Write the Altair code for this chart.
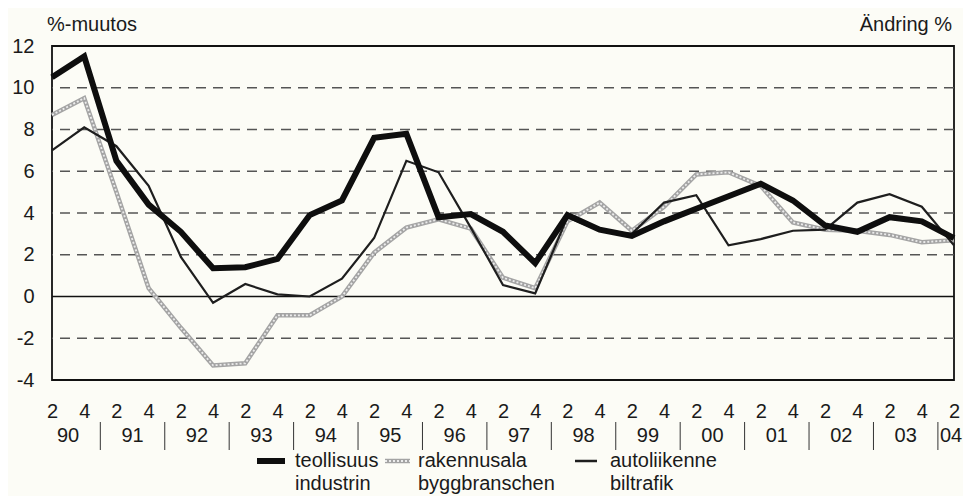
import altair as alt
import pandas as pd

# ---- data ----
years = ["90", "91", "92", "93", "94", "95", "96", "97", "98", "99", "00", "01", "02", "03", "04"]
half_labels = ["2", "4"]
teollisuus = [10.5, 11.5, 6.5, 4.4, 3.1, 1.35, 1.4, 1.8, 3.9, 4.6, 7.6, 7.8, 3.8, 3.95, 3.1,
              1.6, 3.9, 3.2, 2.9, 3.6, 4.2, 4.8, 5.4, 4.6, 3.4, 3.1, 3.8, 3.6, 2.8]
rakennusala = [8.7, 9.5, 5.0, 0.4, -1.5, -3.3, -3.2, -0.9, -0.9, 0.0, 2.1, 3.3, 3.7, 3.25, 0.9,
               0.4, 3.6, 4.5, 3.15, 4.3, 5.85, 5.95, 5.3, 3.55, 3.2, 3.15, 2.95, 2.6, 2.7]
autoliikenne = [7.0, 8.1, 7.2, 5.3, 1.9, -0.3, 0.6, 0.1, 0.0, 0.85, 2.8, 6.5, 5.95, 3.3, 0.55,
                0.15, 3.8, 3.15, 3.0, 4.5, 4.85, 2.45, 2.75, 3.15, 3.2, 4.5, 4.9, 4.3, 2.45]
y_ticks = [-4, -2, 0, 2, 4, 6, 8, 10, 12]
grid_values = [-2, 2, 4, 6, 8, 10]

FONT = "Liberation Sans"
FS = 20
n = len(teollisuus)
W, H = 902, 334

def series_df(vals):
    return pd.DataFrame({"i": list(range(n)), "v": vals})

xs = alt.Scale(domain=[0, n - 1], nice=False, zero=False)
ys = alt.Scale(domain=[-4, 12], nice=False, zero=False)

x_axis = alt.Axis(values=list(range(n)),
                  labelExpr=f"datum.value % 2 == 0 ? '{half_labels[0]}' : '{half_labels[1]}'",
                  ticks=False, domain=False, grid=False, labelPadding=21,
                  labelFontSize=FS, labelFont=FONT, labelColor="#1a1a1a",
                  labelFlush=False, labelOverlap=False, title=None)
y_axis = alt.Axis(values=y_ticks, labelExpr="'' + datum.value",
                  ticks=False, domain=False, grid=False, labelPadding=18,
                  labelFontSize=FS, labelFont=FONT, labelColor="#1a1a1a", title=None)

X = alt.X("i:Q", scale=xs, axis=x_axis)
Y = alt.Y("v:Q", scale=ys, axis=y_axis)

grid = alt.Chart(pd.DataFrame({"v": grid_values})).mark_rule(
    color="#555555", strokeWidth=1.3, strokeDash=[10, 7]
).encode(y=Y)

zero = alt.Chart(pd.DataFrame({"v": [0]})).mark_rule(color="#111111", strokeWidth=1.6).encode(y=Y)

gray_outer = alt.Chart(series_df(rakennusala)).mark_line(
    color="#a4a4a4", strokeWidth=4.5).encode(x=X, y=Y)
gray_inner = alt.Chart(series_df(rakennusala)).mark_line(
    color="#ececec", strokeWidth=1.8, strokeDash=[2, 2]).encode(x=X, y=Y)
thin = alt.Chart(series_df(autoliikenne)).mark_line(
    color="#1e1e1e", strokeWidth=2.2).encode(x=X, y=Y)
thick = alt.Chart(series_df(teollisuus)).mark_line(
    color="#0e0e0e", strokeWidth=6).encode(x=X, y=Y)

# year labels and separators
year_pos = [2 * k + 0.5 for k in range(len(years) - 1)]
year_df = pd.DataFrame({"i": year_pos, "year": years[:-1]})
year_text = alt.Chart(year_df).mark_text(
    font=FONT, fontSize=FS, color="#1a1a1a", baseline="middle", align="center"
).encode(x=X, y=alt.value(390), text="year:N")
last_year = alt.Chart(pd.DataFrame({"i": [n - 1.5], "year": [years[-1]]})).mark_text(
    font=FONT, fontSize=FS, color="#1a1a1a", baseline="middle", align="left", dx=2
).encode(x=X, y=alt.value(390), text="year:N")
sep_df = pd.DataFrame({"i": [2 * k + 1.5 for k in range(len(years) - 1)]})
seps = alt.Chart(sep_df).mark_rule(color="#333333", strokeWidth=1).encode(
    x=X, y=alt.value(376), y2=alt.value(404))

# titles
t_left = alt.Chart(pd.DataFrame({"t": ["%-muutos"]})).mark_text(
    font=FONT, fontSize=FS, color="#1a1a1a", align="left", baseline="middle"
).encode(x=alt.value(-5), y=alt.value(-21), text="t:N")
t_right = alt.Chart(pd.DataFrame({"t": ["Ändring %"]})).mark_text(
    font=FONT, fontSize=FS, color="#1a1a1a", align="right", baseline="middle"
).encode(x=alt.value(W - 2), y=alt.value(-21), text="t:N")

# legend
leg_names1 = ["teollisuus", "rakennusala", "autoliikenne"]
leg_names2 = ["industrin", "byggbranschen", "biltrafik"]
sw_x = [(205, 233), (333, 358), (523, 545)]
tx_x = [243, 366, 558]
ROW1, ROW2 = 415, 438
leg_layers = []
sw_styles = [dict(color="#0e0e0e", strokeWidth=6),
             dict(color="#a4a4a4", strokeWidth=4.5),
             dict(color="#1e1e1e", strokeWidth=2.5)]
for k in range(3):
    d = pd.DataFrame({"a": [leg_names1[k]], "b": [leg_names2[k]]})
    leg_layers.append(alt.Chart(d).mark_rule(**sw_styles[k]).encode(
        x=alt.value(sw_x[k][0]), x2=alt.value(sw_x[k][1]), y=alt.value(ROW1)))
    if k == 1:
        leg_layers.append(alt.Chart(d).mark_rule(color="#ececec", strokeWidth=1.8, strokeDash=[2, 2]).encode(
            x=alt.value(sw_x[k][0]), x2=alt.value(sw_x[k][1]), y=alt.value(ROW1)))
    leg_layers.append(alt.Chart(d).mark_text(
        font=FONT, fontSize=FS, color="#1a1a1a", align="left", baseline="middle"
    ).encode(x=alt.value(tx_x[k]), y=alt.value(ROW1), text="a:N"))
    leg_layers.append(alt.Chart(d).mark_text(
        font=FONT, fontSize=FS, color="#1a1a1a", align="left", baseline="middle"
    ).encode(x=alt.value(tx_x[k]), y=alt.value(ROW2), text="b:N"))

chart = alt.layer(
    grid, zero, gray_outer, gray_inner, thin, thick, year_text, last_year, seps,
    t_left, t_right, *leg_layers
).properties(
    width=W, height=H,
    autosize=alt.AutoSizeParams(type="none"),
    padding={"left": 44, "top": 38, "right": 9, "bottom": 116},
    background="#fcfcf6",
).configure_view(stroke="#111111", strokeWidth=1.8)

chart.save("out.html", embed_options={"renderer": "svg", "actions": False})
